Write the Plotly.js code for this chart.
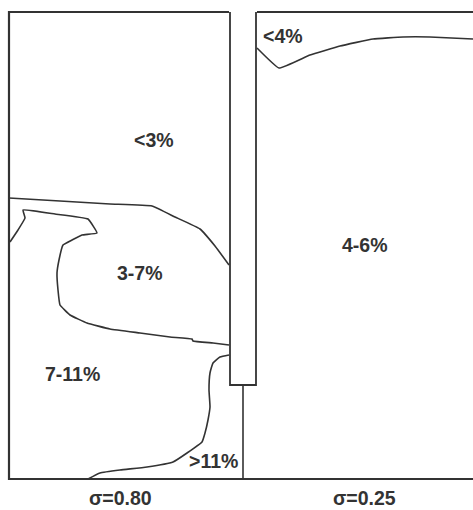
<!DOCTYPE html>
<html>
<head>
<meta charset="utf-8">
<script src="https://cdn.plot.ly/plotly-3.0.1.min.js"></script>
<style>
  html, body { margin: 0; padding: 0; background: #ffffff; }
  #chart { width: 473px; height: 510px; }
</style>
</head>
<body>
<div id="chart"></div>
<script>
// Plane coordinates of the two panels (x to the right, y downward)

// Panel frame: left panel, slot, right panel and the lower divider
const frameLeftX   = [229, 9, 9, 473];
const frameLeftY   = [12, 12, 479, 479];
const frameRightX  = [257, 473];
const frameRightY  = [12, 12];
const slotX        = [230, 230, 256, 256];
const slotY        = [12, 385, 385, 12];
const dividerX     = [243, 243];
const dividerY     = [385, 479];

// Isoline between "<3%" and "3-7%"
const isoA_x = [9, 60, 110, 152, 175, 200, 215, 229];
const isoA_y = [198, 201, 204, 206, 217, 229, 246, 265];

// Isoline enclosing the "3-7%" zone on the left
const isoB_x = [10, 18, 25, 23, 55, 88, 97, 82, 72, 63, 59, 57, 58, 60, 70, 87, 110, 140, 170, 192, 193, 213, 229];
const isoB_y = [242, 230, 218, 210, 214, 219, 233, 235, 240, 245, 260, 273, 290, 305, 315, 323, 329, 333, 337, 339, 341, 343, 345];

// Isoline of the ">11%" zone
const isoC_x = [229, 220, 213, 210, 209, 210, 208, 205, 202, 187, 173, 147, 120, 100, 88];
const isoC_y = [355, 357, 363, 373, 390, 407, 420, 433, 442, 453, 462, 467, 470, 473, 479];

// Isoline of the "<4%" zone on the right
const isoD_x = [257, 279, 310, 340, 373, 403, 430, 473];
const isoD_y = [48, 68, 55, 46, 39, 37, 37, 39];

// Zone labels
const zoneText = ["<3%", "3-7%", "7-11%", ">11%", "<4%", "4-6%"];
const zoneX    = [154, 140, 72, 213, 283, 365];
const zoneY    = [140, 273, 374, 461, 36, 245];

// Panel captions (anchored by their bottom edge)
const captionText = ["σ=0.80", "σ=0.25"];
const captionX    = [120, 364];
const captionY    = [510, 510];

const ink = '#333333';
function seg(x, y, width, smooth) {
  return {
    x: x, y: y, type: 'scatter', mode: 'lines', hoverinfo: 'skip', showlegend: false,
    line: { color: ink, width: width, shape: smooth ? 'spline' : 'linear', smoothing: smooth || 0 }
  };
}

const traces = [
  seg(frameLeftX, frameLeftY, 2.2),
  seg(frameRightX, frameRightY, 2.2),
  seg(slotX, slotY, 1.8),
  seg(dividerX, dividerY, 1.6),
  seg(isoA_x, isoA_y, 1.6, 0.3),
  seg(isoB_x, isoB_y, 1.6, 0.3),
  seg(isoC_x, isoC_y, 1.6, 0.4),
  seg(isoD_x, isoD_y, 1.6, 0.3)
];

function esc(t) { return t.replace('<', '&lt;').replace('>', '&gt;'); }

const annotations = zoneText.map((t, i) => ({
  x: zoneX[i], y: zoneY[i], xref: 'x', yref: 'y', text: '<b>' + esc(t) + '</b>',
  showarrow: false, xanchor: 'center', yanchor: 'middle',
  font: { family: 'Liberation Sans, Arial, sans-serif', size: 19.5, color: ink }
})).concat(captionText.map((t, i) => ({
  x: captionX[i], y: captionY[i], xref: 'x', yref: 'y', text: '<b>' + t + '</b>',
  showarrow: false, xanchor: 'center', yanchor: 'bottom', borderpad: 0,
  font: { family: 'Liberation Sans, Arial, sans-serif', size: 19.5, color: ink }
})));

const layout = {
  width: 473, height: 510,
  margin: { l: 0, r: 0, t: 0, b: 0, pad: 0 },
  paper_bgcolor: '#ffffff', plot_bgcolor: '#ffffff',
  xaxis: { range: [0, 473], visible: false, fixedrange: true },
  yaxis: { range: [510, 0], visible: false, fixedrange: true },
  annotations: annotations,
  showlegend: false
};

Plotly.newPlot('chart', traces, layout, { staticPlot: true, displayModeBar: false });
</script>
</body>
</html>
